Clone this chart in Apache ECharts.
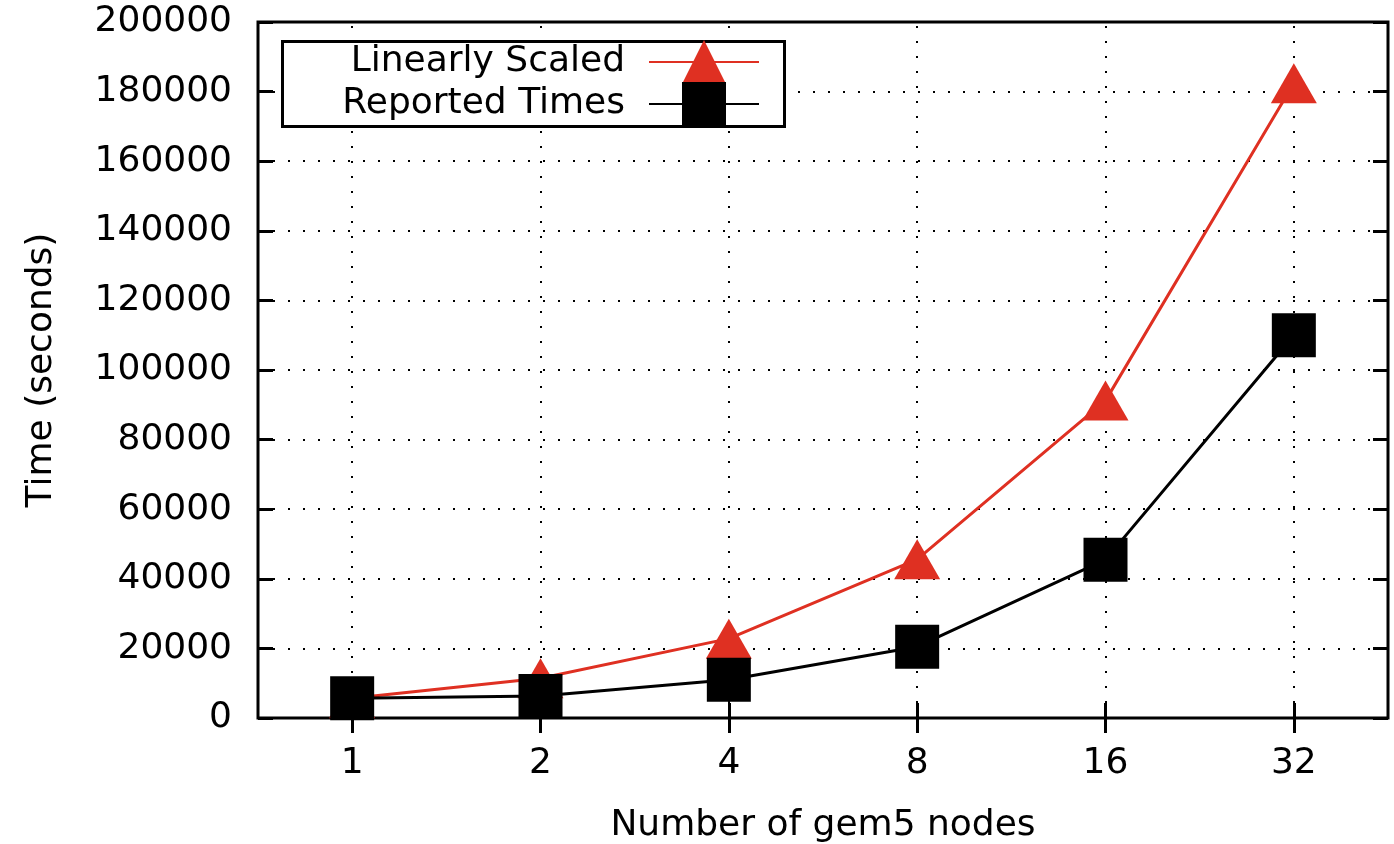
<!DOCTYPE html>
<html>
<head>
<meta charset="utf-8">
<script src="https://cdn.jsdelivr.net/npm/echarts@6/dist/echarts.min.js"></script>
<style>
  html, body { margin: 0; padding: 0; background: #fff; }
  #chart { width: 1394px; height: 844px; }
</style>
</head>
<body>
<div id="chart"></div>
<script>
// Node counts on the x axis
const nodeCounts = ['1', '2', '4', '8', '16', '32'];
// Single-node time multiplied by the node count
const linearlyScaled = [5700, 11400, 22800, 45600, 91200, 182400];
// Measured wall-clock times
const reportedTimes = [5700, 6300, 11000, 20500, 45500, 110000];
// Y axis range
const yMin = 0, yMax = 200000, yStep = 20000;

const FONT = 'DejaVu Sans';
const FS = 36;
const RED = '#df3022';
const dotted = { color: '#000', width: 2, type: [2, 13] };
const tickStyle = { color: '#000', width: 3 };

const chart = echarts.init(document.getElementById('chart'), null, { renderer: 'canvas' });

// one key row: text on the left, line sample with marker on the right
function legendBlock(name, top) {
  return {
    orient: 'vertical',
    right: 634, top: top,
    align: 'right',
    itemWidth: 110, itemHeight: 55,
    padding: 0,
    z: 20,
    textStyle: { fontFamily: FONT, fontSize: FS, color: '#000', padding: [0, 19, 0, 0] },
    data: [name]
  };
}

chart.setOption({
  animation: false,
  backgroundColor: '#fff',
  textStyle: { fontFamily: FONT },
  grid: {
    left: 258, right: 6, top: 22, bottom: 126,
    show: true, borderColor: '#000', borderWidth: 3,
    containLabel: false,
    outerBoundsMode: 'none'
  },
  // framed white key box
  graphic: [{
    type: 'rect',
    left: 281, top: 40, z: 10,
    shape: { width: 502, height: 85 },
    style: { fill: '#fff', stroke: '#000', lineWidth: 3 }
  }],
  legend: [
    legendBlock('Linearly Scaled', 40),
    legendBlock('Reported Times', 82)
  ],
  xAxis: [{
    type: 'category',
    data: nodeCounts,
    boundaryGap: true,
    position: 'bottom',
    axisLine: { show: false },
    axisTick: { show: true, inside: true, alignWithLabel: true, length: 15, lineStyle: tickStyle },
    axisLabel: { fontFamily: FONT, fontSize: FS, color: '#000', margin: 28 },
    splitLine: { show: false },
    name: 'Number of gem5 nodes',
    nameLocation: 'middle',
    nameGap: 90,
    nameTextStyle: { fontFamily: FONT, fontSize: FS, color: '#000' }
  }, {
    type: 'category',
    data: nodeCounts,
    boundaryGap: true,
    position: 'top',
    axisLine: { show: false },
    axisTick: { show: true, inside: true, alignWithLabel: true, length: 15, lineStyle: tickStyle },
    axisLabel: { show: false },
    splitLine: { show: false }
  }],
  yAxis: [{
    type: 'value',
    min: yMin, max: yMax, interval: yStep,
    position: 'left',
    axisLine: { show: false },
    axisTick: { show: true, inside: true, length: 15, lineStyle: tickStyle },
    axisLabel: { fontFamily: FONT, fontSize: FS, color: '#000', margin: 26, formatter: v => String(v) },
    splitLine: { show: true, lineStyle: dotted },
    name: 'Time (seconds)',
    nameLocation: 'middle',
    nameGap: 198,
    nameTextStyle: { fontFamily: FONT, fontSize: FS, color: '#000' }
  }, {
    type: 'value',
    min: yMin, max: yMax, interval: yStep,
    position: 'right',
    axisLine: { show: false },
    axisTick: { show: true, inside: true, length: 15, lineStyle: tickStyle },
    axisLabel: { show: false },
    splitLine: { show: false }
  }],
  series: [{
    name: 'Linearly Scaled',
    type: 'line',
    data: linearlyScaled,
    symbol: 'triangle',
    symbolSize: [46, 40],
    showAllSymbol: true,
    lineStyle: { color: RED, width: 3 },
    itemStyle: { color: RED },
    z: 3,
    // vertical dotted grid lines at each node count
    markLine: {
      silent: true,
      symbol: 'none',
      label: { show: false },
      lineStyle: dotted,
      z: 1,
      data: nodeCounts.map(c => ({ xAxis: c }))
    }
  }, {
    name: 'Reported Times',
    type: 'line',
    data: reportedTimes,
    symbol: 'rect',
    symbolSize: 44,
    showAllSymbol: true,
    lineStyle: { color: '#000', width: 3 },
    itemStyle: { color: '#000' },
    z: 4
  }]
});
</script>
</body>
</html>
